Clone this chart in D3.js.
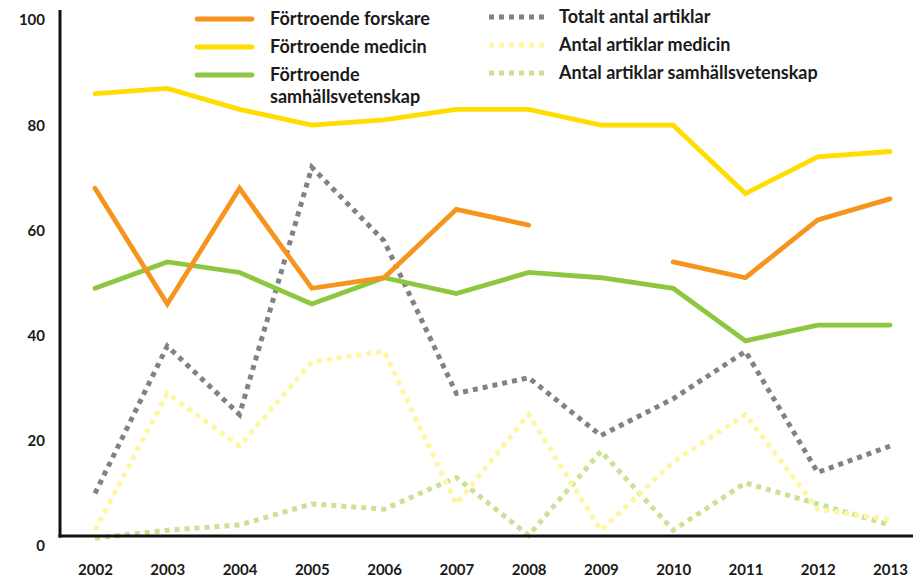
<!DOCTYPE html>
<html>
<head>
<meta charset="utf-8">
<script src="https://cdn.jsdelivr.net/npm/d3@7"></script>
<style>
  body { margin: 0; background: #fff; }
  text { font-family: Lato, "Open Sans", sans-serif; font-weight: bold; fill: #1a1a1a; }
</style>
</head>
<body>
<div id="chart"></div>
<script>
// Data
let years = [2002, 2003, 2004, 2005, 2006, 2007, 2008, 2009, 2010, 2011, 2012, 2013];
let fortroendeForskare = [68, 46, 68, 49, 51, 64, 61, null, 54, 51, 62, 66];
let fortroendeMedicin = [86, 87, 83, 80, 81, 83, 83, 80, 80, 67, 74, 75];
let fortroendeSamhall = [49, 54, 52, 46, 51, 48, 52, 51, 49, 39, 42, 42];
let totaltArtiklar = [10, 38, 25, 72, 58, 29, 32, 21, 28, 37, 14, 19];
let artiklarMedicin = [3, 29, 19, 35, 37, 8, 25, 3, 16, 25, 7, 5];
let artiklarSamhall = [1.5, 3, 4, 8, 7, 13, 2, 18, 3, 12, 8, 4];
let yTicks = [0, 20, 40, 60, 80, 100];

let series = [
    { name: "Totalt antal artiklar", values: totaltArtiklar, color: "#808285", dotted: true },
    { name: "Antal artiklar samhällsvetenskap", values: artiklarSamhall, color: "#cbe194", dotted: true },
    { name: "Antal artiklar medicin", values: artiklarMedicin, color: "#fff6a3", dotted: true },
    { name: "Förtroende samhällsvetenskap", values: fortroendeSamhall, color: "#8dc63f", dotted: false },
    { name: "Förtroende medicin", values: fortroendeMedicin, color: "#ffdd00", dotted: false },
    { name: "Förtroende forskare", values: fortroendeForskare, color: "#f7941d", dotted: false }
];

let W = 913, H = 577;
let svg = d3.select("#chart")
    .append("svg")
    .attr("width", W)
    .attr("height", H);

let xScale = d3.scaleLinear()
    .domain([2002, 2013])
    .range([95, 890]);

let yScale = d3.scaleLinear()
    .domain([0, 100])
    .range([546, 20]);

let axisX = 60, baseY = 536;

/* Tick labels */
let yAxis = d3.axisLeft(yScale).tickValues(yTicks).tickSize(0).tickPadding(15);
svg.append("g")
    .attr("transform", `translate(${axisX}, 0)`)
    .call(yAxis)
    .call(g => g.select(".domain").remove())
    .selectAll("text")
    .attr("font-size", 15)
    .attr("font-family", null)
    .attr("fill", "#1a1a1a");

let xAxis = d3.axisBottom(xScale).tickValues(years).tickFormat(d3.format("d")).tickSize(0).tickPadding(28);
svg.append("g")
    .attr("transform", `translate(0, ${baseY})`)
    .call(xAxis)
    .call(g => g.select(".domain").remove())
    .selectAll("text")
    .attr("font-size", 15)
    .attr("font-family", null)
    .attr("fill", "#1a1a1a");

/* Lines */
let line = d3.line()
    .defined(d => d[1] !== null)
    .x(d => xScale(d[0]))
    .y(d => yScale(d[1]));

series.forEach(s => {
    svg.append("path")
        .datum(years.map((y, i) => [y, s.values[i]]))
        .attr("d", line)
        .attr("fill", "none")
        .attr("stroke", s.color)
        .attr("stroke-width", s.dotted ? 5 : 4.8)
        .attr("stroke-dasharray", s.dotted ? "5,5" : null)
        .attr("stroke-linecap", s.dotted ? "butt" : "round")
        .attr("stroke-linejoin", "miter");
});

/* Axis lines */
svg.append("line")
    .attr("x1", axisX).attr("y1", 10)
    .attr("x2", axisX).attr("y2", baseY + 1.5)
    .attr("stroke", "#111").attr("stroke-width", 3);
svg.append("line")
    .attr("x1", axisX - 1.5).attr("y1", baseY)
    .attr("x2", W).attr("y2", baseY)
    .attr("stroke", "#111").attr("stroke-width", 3);

/* Legend */
let legendItems = [
    { s: series[5], x: 197, y: 19, tx: 73, lines: ["Förtroende forskare"] },
    { s: series[4], x: 197, y: 47, tx: 73, lines: ["Förtroende medicin"] },
    { s: series[3], x: 197, y: 75, tx: 73, lines: ["Förtroende", "samhällsvetenskap"] },
    { s: series[0], x: 489, y: 17, tx: 70, lines: ["Totalt antal artiklar"] },
    { s: series[2], x: 489, y: 45, tx: 70, lines: ["Antal artiklar medicin"] },
    { s: series[1], x: 489, y: 73, tx: 70, lines: ["Antal artiklar samhällsvetenskap"] }
];

let legend = svg.append("g").attr("class", "legend");
legendItems.forEach(item => {
    let g = legend.append("g").attr("transform", `translate(${item.x}, ${item.y})`);
    g.append("line")
        .attr("x1", 0).attr("x2", 55)
        .attr("y1", 0).attr("y2", 0)
        .attr("stroke", item.s.color)
        .attr("stroke-width", item.s.dotted ? 5 : 4.8)
        .attr("stroke-dasharray", item.s.dotted ? "5,5" : null)
        .attr("stroke-linecap", item.s.dotted ? "butt" : "round");
    let t = g.append("text")
        .attr("x", item.tx)
        .attr("y", 0)
        .attr("font-size", 18);
    item.lines.forEach((l, i) => {
        t.append("tspan")
            .attr("x", item.tx)
            .attr("dy", i === 0 ? "0.35em" : 22)
            .text(l);
    });
});
</script>
</body>
</html>
